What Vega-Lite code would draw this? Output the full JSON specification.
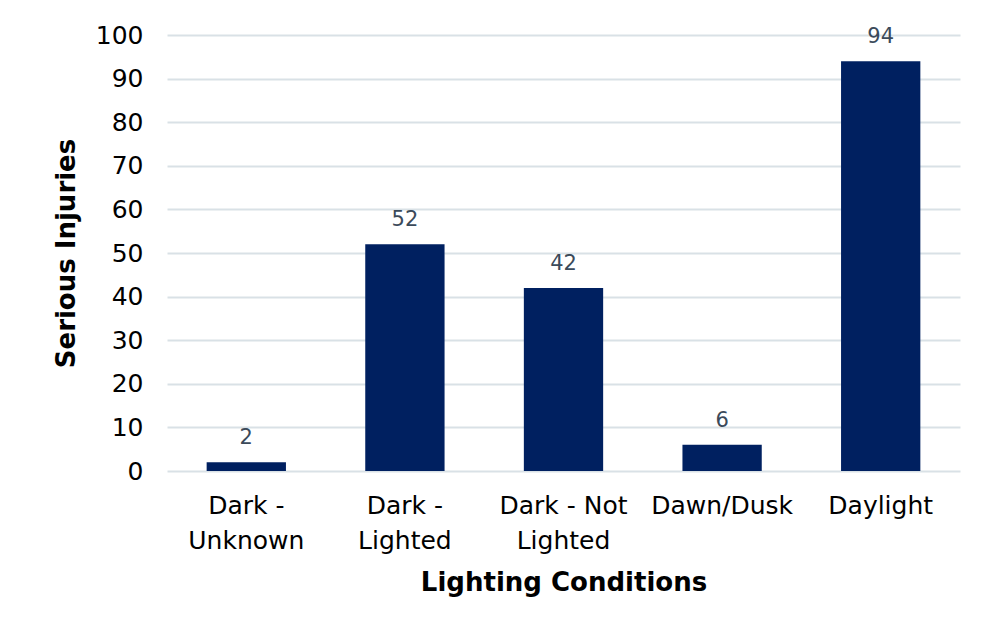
{
  "$schema": "https://vega.github.io/schema/vega-lite/v6.json",
  "width": 793,
  "height": 436,
  "autosize": {"type": "none"},
  "padding": {"left": 167, "top": 35, "right": 38, "bottom": 165},
  "background": "white",
  "data": {"values": [
    {"condition": "Dark - Unknown", "injuries": 2},
    {"condition": "Dark - Lighted", "injuries": 52},
    {"condition": "Dark - Not Lighted", "injuries": 42},
    {"condition": "Dawn/Dusk", "injuries": 6},
    {"condition": "Daylight", "injuries": 94}
  ]},
  "encoding": {
    "x": {
      "field": "condition", "type": "nominal", "sort": null,
      "scale": {"paddingInner": 0.5, "paddingOuter": 0.25},
      "axis": {
        "title": "Lighting Conditions",
        "labelAngle": 0,
        "labelExpr": "datum.value == 'Dark - Unknown' ? ['Dark -', 'Unknown'] : datum.value == 'Dark - Lighted' ? ['Dark -', 'Lighted'] : datum.value == 'Dark - Not Lighted' ? ['Dark - Not', 'Lighted'] : datum.value",
        "labelFont": "DejaVu Sans", "labelFontSize": 25, "labelColor": "#000000",
        "labelLineHeight": 35, "labelPadding": 22, "labelBaseline": "top", "labelOverlap": false,
        "ticks": false, "domain": false, "grid": false,
        "titleFont": "DejaVu Sans", "titleFontSize": 26, "titleFontWeight": "bold", "titleColor": "#000000",
        "titlePadding": 16
      }
    },
    "y": {
      "field": "injuries", "type": "quantitative",
      "scale": {"domain": [0, 100]},
      "axis": {
        "title": "Serious Injuries",
        "values": [0,10,20,30,40,50,60,70,80,90,100],
        "labelFont": "DejaVu Sans", "labelFontSize": 25, "labelColor": "#000000",
        "labelPadding": 24, "labelOverlap": false, "ticks": false, "domain": false,
        "gridColor": "#d9e1e6", "gridWidth": 2,
        "titleFont": "DejaVu Sans", "titleFontSize": 26, "titleFontWeight": "bold", "titleColor": "#000000",
        "titlePadding": 16
      }
    }
  },
  "layer": [
    {"mark": {"type": "bar", "color": "#002060"}},
    {
      "mark": {"type": "text", "baseline": "bottom", "dy": -14, "font": "DejaVu Sans", "fontSize": 21, "color": "#3b4a5a"},
      "encoding": {"text": {"field": "injuries", "type": "quantitative"}}
    }
  ],
  "config": {"view": {"stroke": null}}
}
